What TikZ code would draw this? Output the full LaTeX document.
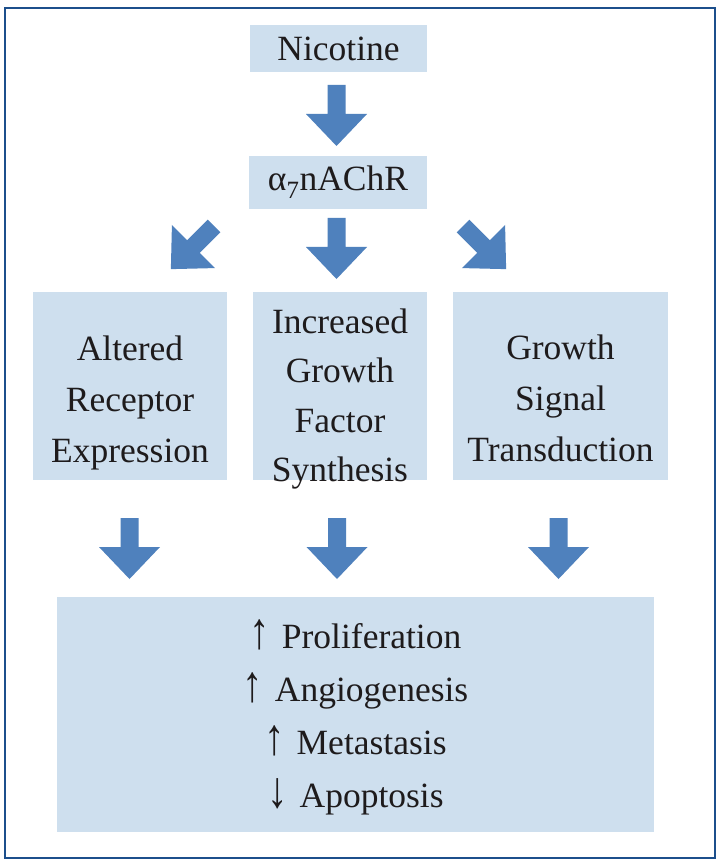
\documentclass[tikz,border=0pt]{standalone}
\usepackage{fontspec}
\usepackage{graphicx}
\setmainfont{Liberation Serif}
\usetikzlibrary{calc}
\definecolor{boxfill}{HTML}{CEDFEE}
\definecolor{arrowblue}{HTML}{4F81BD}
\definecolor{framecol}{HTML}{1C4F8C}
\definecolor{textcol}{HTML}{1E1B1C}
\newcommand{\uparr}{\scalebox{1.15}[1.45]{↑}}
\newcommand{\downarr}{\scalebox{1.15}[1.45]{↓}}
\begin{document}
\begin{tikzpicture}[x=1pt,y=-1pt,
  box/.style={fill=boxfill, draw=none, inner sep=0pt, outer sep=0pt},
  txt/.style={font=\fontsize{35.5pt}{51pt}\selectfont, text=textcol, inner sep=0pt},
  mtxt/.style={txt, align=center, text width=#1, anchor=base},
  blockarrow/.pic={\fill[arrowblue] (-9,0) -- (9,0) -- (9,29) -- (30.5,29) -- (0,61) -- (-30.5,29) -- (-9,29) -- cycle;}
]
\useasboundingbox (0,0) rectangle (720,866);
\fill[white] (0,0) rectangle (720,866);
\draw[framecol, line width=2.6pt] (5,8) rectangle (715,858);

% top boxes
\node[box, txt, minimum width=177pt, minimum height=47pt] (nic) at (338.5,48.5) {Nicotine};
\node[box, txt, minimum width=178pt, minimum height=53pt] (rec) at (338,182.5) {α\textsubscript{7}nAChR};

% middle boxes
\node[box, minimum width=194pt, minimum height=188pt] (left) at (130,386) {};
\node[box, minimum width=174pt, minimum height=188pt] (mid) at (340,386) {};
\node[box, minimum width=215pt, minimum height=188pt] (right) at (560.5,386) {};

\node[mtxt=190pt] (lefttxt) at (130,360) {Altered\\Receptor\\Expression};
\node[mtxt=172pt, font=\fontsize{35.5pt}{49.5pt}\selectfont] (midtxt) at (340,333) {Increased\\Growth\\Factor\\Synthesis};
\node[mtxt=212pt] (righttxt) at (560.5,359) {Growth\\Signal\\Transduction};

% bottom box
\node[box, minimum width=597pt, minimum height=235pt] (out) at (355.5,714.5) {};
\node[mtxt=590pt, font=\fontsize{35.5pt}{53pt}\selectfont] (outtxt) at (355.5,648)
  {\uparr{} Proliferation\\\uparr{} Angiogenesis\\\uparr{} Metastasis\\\downarr{} Apoptosis};

% block arrows
\coordinate (a1) at (336.5,85);
\coordinate (a2) at (336.5,218);
\coordinate (aL) at (214,226);
\coordinate (aR) at (463,226);
\coordinate (b1) at (129.5,518);
\coordinate (b2) at (337,518);
\coordinate (b3) at (558.5,518);
\pic at (a1) {blockarrow};
\pic at (a2) {blockarrow};
\pic[rotate=-45] at (aL) {blockarrow};
\pic[rotate=45] at (aR) {blockarrow};
\pic at (b1) {blockarrow};
\pic at (b2) {blockarrow};
\pic at (b3) {blockarrow};
\end{tikzpicture}
\end{document}
